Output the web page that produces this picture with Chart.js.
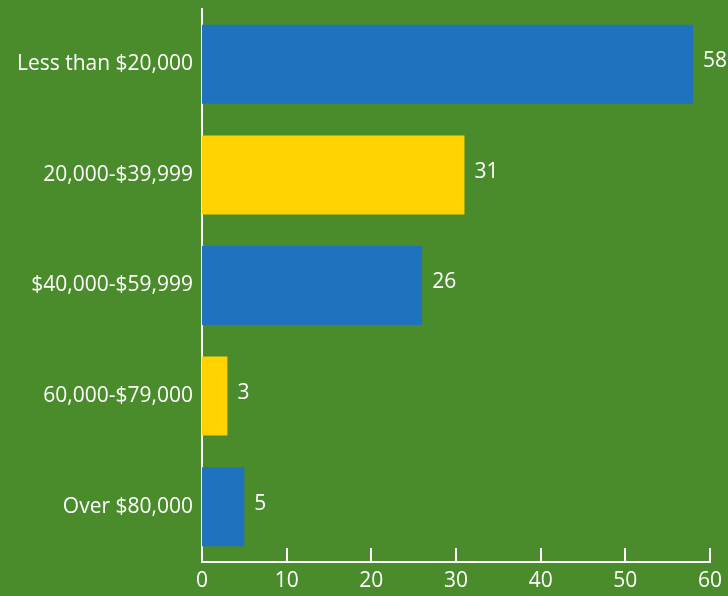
<!DOCTYPE html>
<html>
<head>
<meta charset="utf-8">
<script src="https://cdn.jsdelivr.net/npm/chart.js@4/dist/chart.umd.min.js"></script>
<style>
  html, body { margin: 0; padding: 0; background: #4a8b2c; }
  #wrap { width: 728px; height: 596px; position: relative; }
</style>
</head>
<body>
<div id="wrap"><canvas id="incomeChart"></canvas></div>
<script>
const categories = ['Less than $20,000', '20,000-$39,999', '$40,000-$59,999', '60,000-$79,000', 'Over $80,000'];
const counts = [58, 31, 26, 3, 5];
const barColors = ['#1f73be', '#ffd200', '#1f73be', '#ffd200', '#1f73be'];
const xTicks = [0, 10, 20, 30, 40, 50, 60];

const FONT = '"Open Sans", sans-serif';
const WHITE = '#ffffff';

// short tick marks pointing up from the x axis line
const upTicks = {
  id: 'upTicks',
  afterDraw(chart) {
    const { ctx, scales: { x } } = chart;
    const bottom = chart.chartArea.bottom;
    ctx.save();
    ctx.strokeStyle = WHITE;
    ctx.lineWidth = 2;
    xTicks.forEach(v => {
      const px = Math.round(x.getPixelForValue(v));
      ctx.beginPath();
      ctx.moveTo(px, bottom);
      ctx.lineTo(px, bottom - 14);
      ctx.stroke();
    });
    ctx.restore();
  }
};

// value printed to the right of each bar
const barValues = {
  id: 'barValues',
  afterDatasetsDraw(chart) {
    const { ctx } = chart;
    const meta = chart.getDatasetMeta(0);
    ctx.save();
    ctx.fillStyle = WHITE;
    ctx.font = '21px ' + FONT;
    ctx.textAlign = 'left';
    ctx.textBaseline = 'middle';
    meta.data.forEach((bar, i) => {
      ctx.fillText(String(counts[i]), bar.x + 10, bar.y - 3);
    });
    ctx.restore();
  }
};

new Chart(document.getElementById('incomeChart'), {
  type: 'bar',
  data: {
    labels: categories,
    datasets: [{
      data: counts,
      backgroundColor: barColors,
      borderWidth: 0,
      barPercentage: 0.714,
      categoryPercentage: 1
    }]
  },
  options: {
    indexAxis: 'y',
    responsive: true,
    maintainAspectRatio: false,
    animation: false,
    layout: { padding: { top: 9, right: 18, bottom: 0, left: 0 } },
    plugins: {
      legend: { display: false },
      tooltip: { enabled: false }
    },
    scales: {
      x: {
        min: 0,
        max: 60,
        afterBuildTicks(scale) {
          scale.ticks = xTicks.map(v => ({ value: v }));
        },
        afterFit(scale) {
          scale.height = 34;
          scale.paddingLeft = 0;
          scale.paddingRight = 0;
        },
        grid: { display: false, drawTicks: false },
        border: { display: true, color: WHITE, width: 2 },
        ticks: {
          color: WHITE,
          font: { family: FONT, size: 21 },
          padding: 6,
          maxRotation: 0
        }
      },
      y: {
        afterFit(scale) {
          scale.width = 202;
          scale.paddingTop = 0;
          scale.paddingBottom = 0;
        },
        grid: { display: false, drawTicks: false },
        border: { display: true, color: WHITE, width: 2 },
        ticks: {
          color: WHITE,
          font: { family: FONT, size: 21 },
          padding: 9
        }
      }
    }
  },
  plugins: [upTicks, barValues]
});
</script>
</body>
</html>
